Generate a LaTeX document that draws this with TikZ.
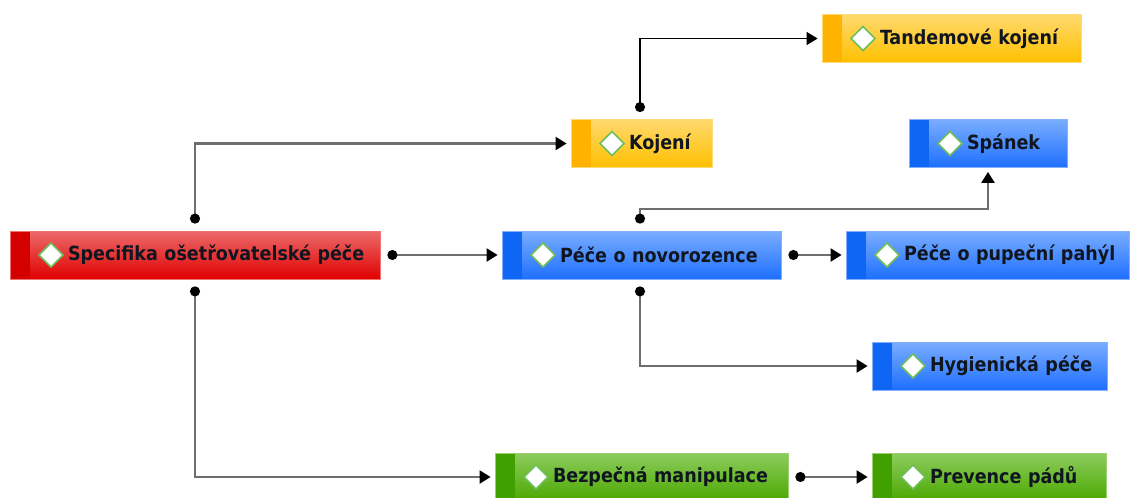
\documentclass[tikz,border=0pt]{standalone}
\usepackage{fontspec}
\setmainfont{DejaVu Sans}
\newfontfamily\topicfont{DejaVu Sans Condensed}
\usepackage{xcolor}
\usetikzlibrary{arrows.meta,positioning}

\definecolor{redmain}{HTML}{E00000}
\definecolor{redtop}{HTML}{EC6A6A}
\definecolor{redstrip}{HTML}{D40000}
\definecolor{bluemain}{HTML}{1E6FFF}
\definecolor{bluetop}{HTML}{7AADFF}
\definecolor{bluestrip}{HTML}{0F66F5}
\definecolor{orgmain}{HTML}{FFC000}
\definecolor{orgtop}{HTML}{FFD96E}
\definecolor{orgstrip}{HTML}{FFB300}
\definecolor{grnmain}{HTML}{4BA800}
\definecolor{grntop}{HTML}{8DCC5E}
\definecolor{grnstrip}{HTML}{40A000}
\definecolor{diagreen}{HTML}{6DBE5A}
\definecolor{linkgray}{HTML}{6E6E6E}
\definecolor{txt}{HTML}{101620}

\newcommand{\topicpic}[1]{%
  \fill[#1] (path picture bounding box.south west) rectangle ([xshift=20pt]path picture bounding box.north west);
  \filldraw[fill=white, draw=diagreen, line width=1.5pt] ([xshift=29pt]path picture bounding box.west) -- ++(12pt,12pt) -- ++(12pt,-12pt) -- ++(-12pt,-12pt) -- cycle;}

\begin{document}
\begin{tikzpicture}[
    x=1pt, y=-1pt,
    topic/.style={rectangle, minimum height=48pt, text width=#1-20pt, inner xsep=10pt, inner ysep=0pt,
      align=left, font=\topicfont\bfseries\fontsize{19.5}{22}\selectfont, text=txt, line width=0.8pt},
    redtopic/.style={topic=#1, top color=redtop, bottom color=redmain, draw=redmain!55!white, path picture={\topicpic{redstrip}}},
    bluetopic/.style={topic=#1, top color=bluetop, bottom color=bluemain, draw=bluemain!55!white, path picture={\topicpic{bluestrip}}},
    orgtopic/.style={topic=#1, top color=orgtop, bottom color=orgmain, draw=orgmain!55!white, path picture={\topicpic{orgstrip}}},
    grntopic/.style={topic=#1, top color=grntop, bottom color=grnmain, draw=grnmain!55!white, path picture={\topicpic{grnstrip}}},
    link/.style={draw=linkgray, line width=2.2pt, {Circle[black,length=10pt]}-{Triangle[black,length=11pt,width=13pt]}},
    blacklink/.style={link, draw=black, line width=1.6pt}
]
    \useasboundingbox (0,0) rectangle (1130,498);

    % Topics
    \node[redtopic=370pt] (spec) at (195,255) {\hspace*{48pt}Specifika ošetřovatelské péče};
    \node[bluetopic=279pt] (novo) at (641.5,255) {\hspace*{48pt}Péče o novorozence};
    \node[orgtopic=141pt] (koj) at (641.5,143.5) {\hspace*{48pt}Kojení};
    \node[orgtopic=259pt] (tand) at (951.5,38.5) {\hspace*{48pt}Tandemové kojení};
    \node[bluetopic=158pt] (span) at (988,143.5) {\hspace*{48pt}Spánek};
    \node[bluetopic=283pt] (pup) at (987.5,255) {\hspace*{48pt}Péče o pupeční pahýl};
    \node[bluetopic=235pt] (hyg) at (989.5,366) {\hspace*{48pt}Hygienická péče};
    \node[grntopic=293pt] (bez) at (641.5,477) {\hspace*{48pt}Bezpečná manipulace};
    \node[grntopic=234pt] (prev) at (989,477) {\hspace*{48pt}Prevence pádů};

    % Links
    \draw[link] ([yshift=7pt]spec.north) |- ([xshift=-4pt]koj.west);
    \draw[link] ([xshift=7pt]spec.east) -- ([xshift=-4pt]novo.west);
    \draw[link] ([yshift=-7pt]spec.south) |- ([xshift=-4pt]bez.west);
    \draw[blacklink] ([yshift=7pt,xshift=-1.5pt]koj.north) |- ([xshift=-4pt]tand.west);
    \draw[link] ([yshift=7pt,xshift=-1.5pt]novo.north) -- ++(0,-15) -| ([yshift=-4pt]span.south);
    \draw[link] ([xshift=7pt]novo.east) -- ([xshift=-4pt]pup.west);
    \draw[link] ([yshift=-7pt,xshift=-1.5pt]novo.south) |- ([xshift=-4pt]hyg.west);
    \draw[link] ([xshift=7pt]bez.east) -- ([xshift=-4pt]prev.west);
\end{tikzpicture}
\end{document}
